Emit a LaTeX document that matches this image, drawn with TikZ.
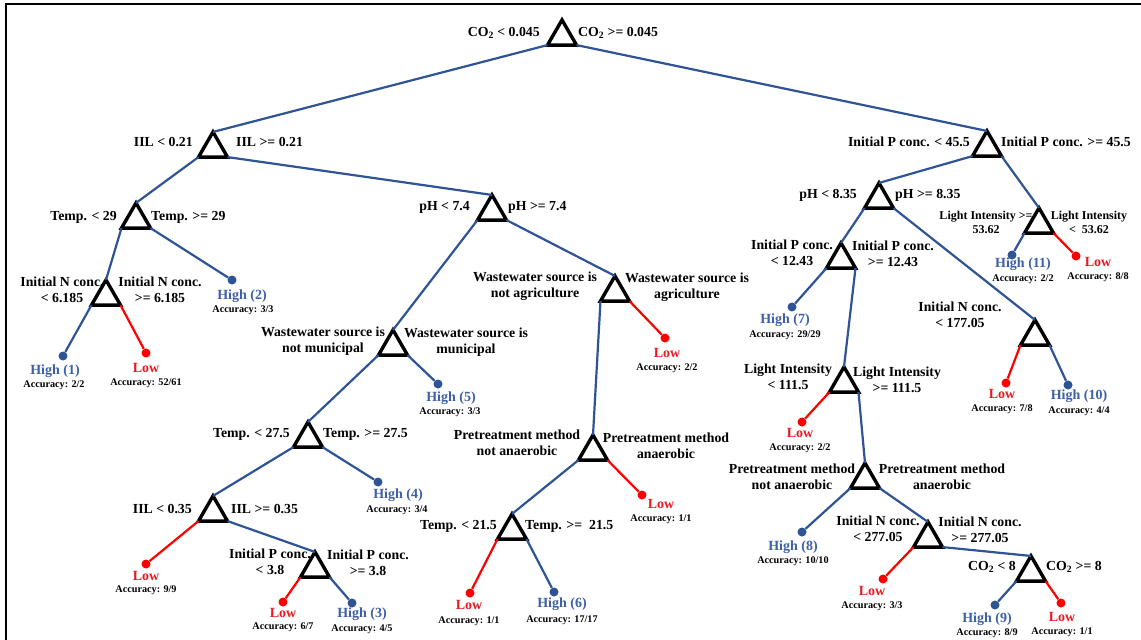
\documentclass[tikz,border=0pt]{standalone}
\usepackage{fontspec}
\setmainfont{Liberation Serif}
\usetikzlibrary{shapes.geometric}

\definecolor{edgeblue}{RGB}{47,84,150}
\definecolor{leafblue}{RGB}{62,96,168}
\definecolor{edgered}{RGB}{255,0,0}
\definecolor{leafred}{RGB}{236,24,32}

\tikzset{
  split/.style={regular polygon, regular polygon sides=3, draw=black,
    line width=3.4pt, minimum size=33.5pt, inner sep=0pt, outer sep=0pt},
  hidot/.style={circle, fill=edgeblue, minimum size=9pt, inner sep=0pt},
  lodot/.style={circle, fill=edgered, minimum size=9pt, inner sep=0pt},
  cond/.style={font=\fontsize{13.8}{16.5}\selectfont\bfseries, inner sep=0pt, align=center},
  smallcond/.style={font=\fontsize{12}{14}\selectfont\bfseries, inner sep=0pt, align=center},
  hitext/.style={font=\fontsize{14}{16}\selectfont\bfseries, text=leafblue, inner sep=0pt},
  lotext/.style={font=\fontsize{14}{16}\selectfont\bfseries, text=leafred, inner sep=0pt},
  acc/.style={font=\fontsize{10.2}{11}\selectfont\bfseries, inner sep=0pt},
  bedge/.style={draw=edgeblue, line width=2.2pt},
  redge/.style={draw=edgered, line width=2.2pt},
}

\begin{document}
\begin{tikzpicture}[x=1pt, y=-1pt]
\useasboundingbox (0,0) rectangle (1141,640);
\fill[white] (0,0) rectangle (1141,640);
\draw[line width=2pt] (6,640) -- (6,4) -- (1141,4);

% ---- split nodes (apex x, apex y + circumradius) ----
\node[split] (root)  at (562,20+16.7) {};
\node[split] (iil1)  at (213,132+16.7) {};
\node[split] (p45)   at (987,131+16.7) {};
\node[split] (t29)   at (136,203+16.7) {};
\node[split] (ph74)  at (492,195+16.7) {};
\node[split] (n6)    at (106,280+16.7) {};
\node[split] (muni)  at (393,330+16.7) {};
\node[split] (agri)  at (615,276+16.7) {};
\node[split] (t275)  at (308,422+16.7) {};
\node[split] (iil35) at (213,496+16.7) {};
\node[split] (p38)   at (315,552+16.7) {};
\node[split] (pre1)  at (593,435+16.7) {};
\node[split] (t215)  at (512,514+16.7) {};
\node[split] (ph835) at (879,183+16.7) {};
\node[split] (li53)  at (1039,208+16.7) {};
\node[split] (p1243) at (841,243+16.7) {};
\node[split] (n177)  at (1035,320+16.7) {};
\node[split] (li111) at (844,367+16.7) {};
\node[split] (pre2)  at (865,463+16.7) {};
\node[split] (n277)  at (928,522+16.7) {};
\node[split] (co8)   at (1031,556+16.7) {};

% ---- split conditions ----
\node[cond, anchor=east] (rootL) at (540,33) {CO\textsubscript{2} < 0.045};
\node[cond, anchor=west] (rootR) at (578,33) {CO\textsubscript{2} >= 0.045};
\node[cond, anchor=east] (iil1L) at (193,142) {IIL < 0.21};
\node[cond, anchor=west] (iil1R) at (236,142) {IIL >= 0.21};
\node[cond, anchor=east] (p45L) at (970,142) {Initial P conc. < 45.5};
\node[cond, anchor=west] (p45R) at (1001,142) {Initial P conc. >= 45.5};
\node[cond, anchor=east] (t29L) at (117,217) {Temp. < 29};
\node[cond, anchor=west] (t29R) at (151,217) {Temp. >= 29};
\node[cond, anchor=east] (ph74L) at (470,207) {pH < 7.4};
\node[cond, anchor=west] (ph74R) at (508,207) {pH >= 7.4};
\node[cond] (n6L) at (62,290) {Initial N conc.\\< 6.185};
\node[cond] (n6R) at (160,290) {Initial N conc.\\>= 6.185};
\node[cond] (muniL) at (323,341) {Wastewater source is\\not municipal};
\node[cond] (muniR) at (466,342) {Wastewater source is\\municipal};
\node[cond] (agriL) at (535,286) {Wastewater source is\\not agriculture};
\node[cond] (agriR) at (687,287) {Wastewater source is\\agriculture};
\node[cond, anchor=east] (t275L) at (290,434) {Temp. < 27.5};
\node[cond, anchor=west] (t275R) at (323,434) {Temp. >= 27.5};
\node[cond, anchor=east] (iil35L) at (192,509) {IIL < 0.35};
\node[cond, anchor=west] (iil35R) at (231,509) {IIL >= 0.35};
\node[cond] (p38L) at (270,562) {Initial P conc.\\< 3.8};
\node[cond] (p38R) at (368,563) {Initial P conc.\\>= 3.8};
\node[cond] (pre1L) at (517,443) {Pretreatment method\\not anaerobic};
\node[cond] (pre1R) at (666,446) {Pretreatment method\\anaerobic};
\node[cond, anchor=east] (t215L) at (497,526) {Temp. < 21.5};
\node[cond, anchor=west] (t215R) at (525,526) {Temp. >=\ \ 21.5};
\node[cond, anchor=east] (ph835L) at (857,195) {pH < 8.35};
\node[cond, anchor=west] (ph835R) at (895,195) {pH >= 8.35};
\node[smallcond] (li53L) at (986,222) {Light Intensity >=\\53.62};
\node[smallcond] (li53R) at (1089,222) {Light Intensity\\<\ \ 53.62};
\node[cond] (p1243L) at (792,253) {Initial P conc.\\< 12.43};
\node[cond] (p1243R) at (893,254) {Initial P conc.\\>= 12.43};
\node[cond] (n177L) at (960,315) {Initial N conc.\\< 177.05};
\node[cond] (li111L) at (788,377) {Light Intensity\\< 111.5};
\node[cond] (li111R) at (897,380) {Light Intensity\\>= 111.5};
\node[cond] (pre2L) at (792,477) {Pretreatment method\\not anaerobic};
\node[cond] (pre2R) at (942,477) {Pretreatment method\\anaerobic};
\node[cond] (n277L) at (878,529) {Initial N conc.\\< 277.05};
\node[cond] (n277R) at (980,530) {Initial N conc.\\>= 277.05};
\node[cond, anchor=east] (co8L) at (1016,567) {CO\textsubscript{2} < 8};
\node[cond, anchor=west] (co8R) at (1046,567) {CO\textsubscript{2} >= 8};

% ---- leaves ----
\node[hidot] (h1) at (63,356) {};
\node[hitext] (h1t) at (55,371) {High (1)};
\node[acc] (h1a) at (54,385) {Accuracy: 2/2};
\node[lodot] (lo1) at (146,353) {};
\node[lotext] (lo1t) at (146,368) {Low};
\node[acc] (lo1a) at (146,383) {Accuracy: 52/61};
\node[hidot] (h2) at (232,280) {};
\node[hitext] (h2t) at (242,296) {High (2)};
\node[acc] (h2a) at (243,310) {Accuracy: 3/3};
\node[hidot] (h5) at (438,384) {};
\node[hitext] (h5t) at (451,398) {High (5)};
\node[acc] (h5a) at (450,412) {Accuracy: 3/3};
\node[lodot] (lo2) at (665,338) {};
\node[lotext] (lo2t) at (667,353) {Low};
\node[acc] (lo2a) at (667,368) {Accuracy: 2/2};
\node[hidot] (h4) at (378,482) {};
\node[hitext] (h4t) at (398,495) {High (4)};
\node[acc] (h4a) at (397,510) {Accuracy: 3/4};
\node[lodot] (lo3) at (146,564) {};
\node[lotext] (lo3t) at (146,576) {Low};
\node[acc] (lo3a) at (146,590) {Accuracy: 9/9};
\node[lodot] (lo4) at (283,602) {};
\node[lotext] (lo4t) at (283,613) {Low};
\node[acc] (lo4a) at (283,627) {Accuracy: 6/7};
\node[hidot] (h3) at (352,603) {};
\node[hitext] (h3t) at (362,614) {High (3)};
\node[acc] (h3a) at (362,629) {Accuracy: 4/5};
\node[lodot] (lo5) at (642,495) {};
\node[lotext] (lo5t) at (661,504) {Low};
\node[acc] (lo5a) at (661,519) {Accuracy: 1/1};
\node[lodot] (lo6) at (470,593) {};
\node[lotext] (lo6t) at (469,605) {Low};
\node[acc] (lo6a) at (469,621) {Accuracy: 1/1};
\node[hidot] (h6) at (554,592) {};
\node[hitext] (h6t) at (562,604) {High (6)};
\node[acc] (h6a) at (562,620) {Accuracy: 17/17};
\node[hidot] (h11) at (1012,255) {};
\node[hitext] (h11t) at (1023,264) {High (11)};
\node[acc] (h11a) at (1023,279) {Accuracy: 2/2};
\node[lodot] (lo7) at (1076,256) {};
\node[lotext] (lo7t) at (1098,262) {Low};
\node[acc] (lo7a) at (1098,277) {Accuracy: 8/8};
\node[hidot] (h7) at (792,307) {};
\node[hitext] (h7t) at (785,320) {High (7)};
\node[acc] (h7a) at (785,335) {Accuracy: 29/29};
\node[lodot] (lo8) at (1006,383) {};
\node[lotext] (lo8t) at (1002,394) {Low};
\node[acc] (lo8a) at (1002,409) {Accuracy: 7/8};
\node[hidot] (h10) at (1068,385) {};
\node[hitext] (h10t) at (1079,396) {High (10)};
\node[acc] (h10a) at (1079,411) {Accuracy: 4/4};
\node[lodot] (lo9) at (802,422) {};
\node[lotext] (lo9t) at (800,433) {Low};
\node[acc] (lo9a) at (800,448) {Accuracy: 2/2};
\node[hidot] (h8) at (802,532) {};
\node[hitext] (h8t) at (793,547) {High (8)};
\node[acc] (h8a) at (793,561) {Accuracy: 10/10};
\node[lodot] (lo10) at (883,579) {};
\node[lotext] (lo10t) at (872,591) {Low};
\node[acc] (lo10a) at (872,606) {Accuracy: 3/3};
\node[hidot] (h9) at (995,605) {};
\node[hitext] (h9t) at (987,619) {High (9)};
\node[acc] (h9a) at (987,633) {Accuracy: 8/9};
\node[lodot] (lo11) at (1061,603) {};
\node[lotext] (lo11t) at (1062,617) {Low};
\node[acc] (lo11a) at (1062,632) {Accuracy: 1/1};

% ---- branches ----
\draw[bedge] (root.corner 2) -- (iil1.corner 1);
\draw[bedge] (root.corner 3) -- (p45.corner 1);
\draw[bedge] (iil1.corner 2) -- (t29.corner 1);
\draw[bedge] (iil1.corner 3) -- (ph74.corner 1);
\draw[bedge] (t29.corner 2) -- (n6.corner 1);
\draw[bedge] (t29.corner 3) -- (h2);
\draw[bedge] (n6.corner 2) -- (h1);
\draw[redge] (n6.corner 3) -- (lo1);
\draw[bedge] (ph74.corner 2) -- (muni.corner 1);
\draw[bedge] (ph74.corner 3) -- (agri.corner 1);
\draw[bedge] (muni.corner 2) -- (t275.corner 1);
\draw[bedge] (muni.corner 3) -- (h5);
\draw[bedge] (t275.corner 2) -- (iil35.corner 1);
\draw[bedge] (t275.corner 3) -- (h4);
\draw[redge] (iil35.corner 2) -- (lo3);
\draw[bedge] (iil35.corner 3) -- (p38.corner 1);
\draw[redge] (p38.corner 2) -- (lo4);
\draw[bedge] (p38.corner 3) -- (h3);
\draw[bedge] (agri.corner 2) -- (pre1.corner 1);
\draw[redge] (agri.corner 3) -- (lo2);
\draw[bedge] (pre1.corner 2) -- (t215.corner 1);
\draw[redge] (pre1.corner 3) -- (lo5);
\draw[redge] (t215.corner 2) -- (lo6);
\draw[bedge] (t215.corner 3) -- (h6);
\draw[bedge] (p45.corner 2) -- (ph835.corner 1);
\draw[bedge] (p45.corner 3) -- (li53.corner 1);
\draw[bedge] (li53.corner 2) -- (h11);
\draw[redge] (li53.corner 3) -- (lo7);
\draw[bedge] (ph835.corner 2) -- (p1243.corner 1);
\draw[bedge] (ph835.corner 3) -- (n177.corner 1);
\draw[bedge] (p1243.corner 2) -- (h7);
\draw[bedge] (p1243.corner 3) -- (li111.corner 1);
\draw[redge] (n177.corner 2) -- (lo8);
\draw[bedge] (n177.corner 3) -- (h10);
\draw[redge] (li111.corner 2) -- (lo9);
\draw[bedge] (li111.corner 3) -- (pre2.corner 1);
\draw[bedge] (pre2.corner 2) -- (h8);
\draw[bedge] (pre2.corner 3) -- (n277.corner 1);
\draw[redge] (n277.corner 2) -- (lo10);
\draw[bedge] (n277.corner 3) -- (co8.corner 1);
\draw[bedge] (co8.corner 2) -- (h9);
\draw[redge] (co8.corner 3) -- (lo11);
\end{tikzpicture}
\end{document}
